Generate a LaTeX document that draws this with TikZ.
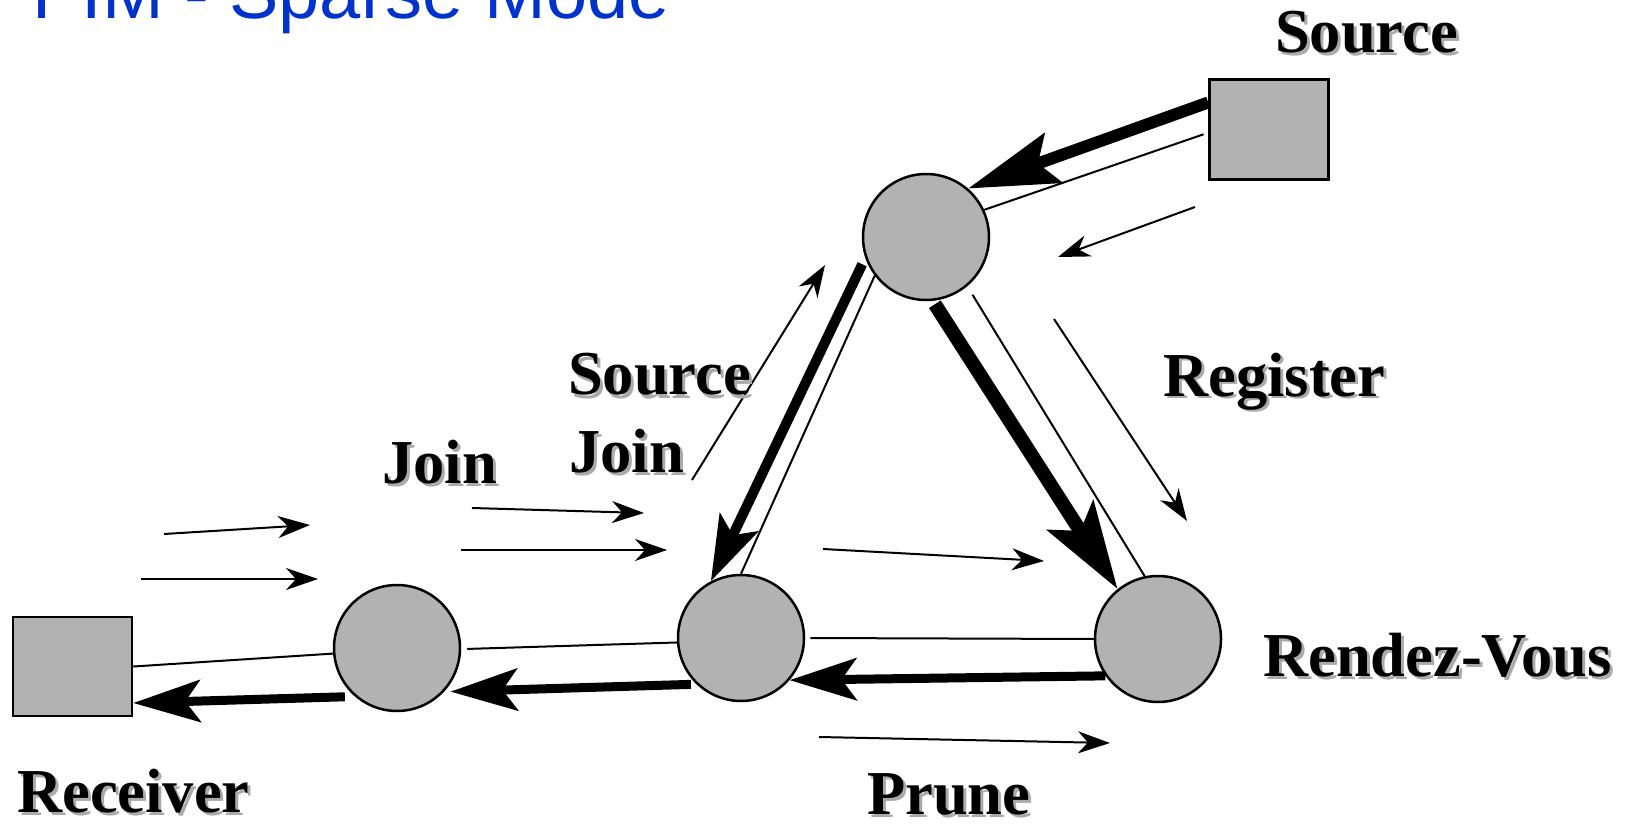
\documentclass[tikz,border=0pt]{standalone}
\usepackage{fontspec}
\setmainfont{Liberation Serif}
\newfontfamily\titlefont{Liberation Sans}
\usetikzlibrary{arrows.meta,calc}
\definecolor{nodefill}{RGB}{178,178,178}
\definecolor{titleblue}{RGB}{0,51,204}
\definecolor{shadowgray}{RGB}{170,170,170}

% bold label with a grey drop shadow: name, position, text
\newcommand\shadowtext[3]{%
  \node[lbl, text=shadowgray] at ($#2+(3,3)$) {#3};
  \node[lbl] (#1) at #2 {#3};}

\begin{document}
\begin{tikzpicture}[x=1pt,y=-1pt,
  router/.style={circle, draw=black, line width=2.5pt, fill=nodefill,
    minimum size=126pt, inner sep=0pt},
  host/.style={rectangle, draw=black, line width=2.5pt, fill=nodefill,
    inner sep=0pt, minimum width=119pt},
  link/.style={line width=2pt},
  msg/.style={line width=2pt, -{Stealth[length=32pt,width=22pt,inset=10pt]}},
  flow/.style={line width=9pt, -{Stealth[length=67pt,width=42pt,inset=15pt]}},
  lbl/.style={inner sep=0pt, anchor=base west,
    font=\bfseries\fontsize{62.5}{62.5}\selectfont},
]
\useasboundingbox (0,0) rectangle (1647,826);
\clip (0,0) rectangle (1647,826);

% title
\node[anchor=base west, inner sep=0pt, text=titleblue,
  font=\titlefont\fontsize{74}{74}\selectfont] (title) at (32,19) {PIM - Sparse Mode};

% hosts and routers
\node[host, minimum height=99pt]  (rcv) at (72.5,666.5) {};
\node[host, minimum height=100pt] (src) at (1269,129.5) {};
\node[router] (lc) at (397,648) {};
\node[router] (mc) at (741,638) {};
\node[router] (rc) at (1158,639) {};
\node[router] (tc) at (926,237) {};

% physical links
\draw[link] (rcv.east) -- (lc.185);
\draw[link, shorten <=6pt] (lc.-1) -- (mc.184);
\draw[link, shorten <=5pt] (mc.east) -- (rc.west);
\draw[link] (mc.north) -- (tc.217);
\draw[link, shorten >=10pt] (rc.102) -- (tc.-50);
\draw[link, shorten >=5pt] (tc.25) -- (src.183);

% multicast data flow
\draw[flow, line width=12pt, -{Stealth[length=90pt,width=52pt,inset=16pt]}]
  (src.156) -- (tc.49);
\draw[flow, line width=10pt, shorten <=7pt,
  -{Stealth[length=65pt,width=42pt,inset=14pt]}] (tc.199) -- (mc.118);
\draw[flow, line width=14pt, shorten <=4pt,
  -{Stealth[length=87pt,width=54pt,inset=18pt]}] (tc.-84) -- (rc.129);
\draw[flow] (rc.215) -- (mc.-41);
\draw[flow, shorten <=5.5pt, shorten >=6.5pt] (mc.226) -- (lc.-43);
\draw[flow, shorten <=10pt] (lc.229) -- (rcv.-31);

% control messages
\coordinate (j1s) at (164,534);  \coordinate (j1e) at (310,525);
\coordinate (j2s) at (141,579);  \coordinate (j2e) at (318,579);
\coordinate (j3s) at (472,508);  \coordinate (j3e) at (644,513);
\coordinate (j4s) at (461,550);  \coordinate (j4e) at (667,550);
\coordinate (sjs) at (692,480);  \coordinate (sje) at (825,265);
\coordinate (mrs) at (823,549);  \coordinate (mre) at (1044,561);
\coordinate (prs) at (819,737);  \coordinate (pre) at (1110,743);
\coordinate (r1s) at (1195,207); \coordinate (r1e) at (1058,257);
\coordinate (r2s) at (1054,319); \coordinate (r2e) at (1187,521);
\draw[msg] (j1s) -- (j1e);
\draw[msg] (j2s) -- (j2e);
\draw[msg] (j3s) -- (j3e);
\draw[msg] (j4s) -- (j4e);
\draw[msg] (sjs) -- (sje);
\draw[msg] (mrs) -- (mre);
\draw[msg] (prs) -- (pre);
\draw[msg] (r1s) -- (r1e);
\draw[msg] (r2s) -- (r2e);

% labels
\shadowtext{lsrc}{(1275,53)}{Source}
\shadowtext{lreg}{(1163,396)}{Register}
\shadowtext{lsja}{(568,395)}{Source}
\shadowtext{lsjb}{(569,472)}{Join}
\shadowtext{ljoin}{(382,483)}{Join}
\shadowtext{lrv}{(1263,676)}{Rendez-Vous}
\shadowtext{lprune}{(867,814)}{Prune}
\shadowtext{lrcv}{(17,812)}{Receiver}
\end{tikzpicture}
\end{document}
